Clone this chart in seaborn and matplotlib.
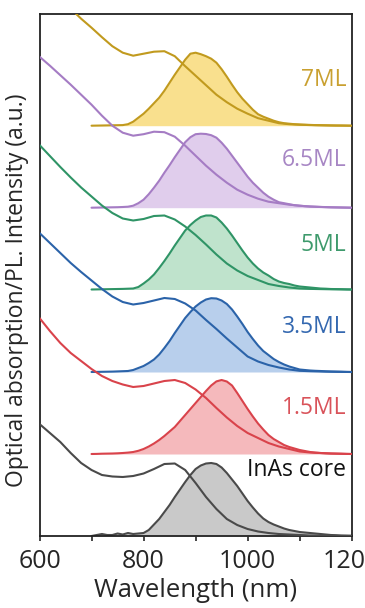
import numpy as np
import pandas as pd
import matplotlib
matplotlib.use("Agg")
import matplotlib.pyplot as plt
import seaborn as sns

# longitudes de onda
wl_abs = list(range(600, 1201, 20))
wl_pl = list(range(700, 1201, 10))

# absorcion (u.a., sin offset)
abs_core = [112, 103, 94, 83, 73, 66, 61, 59.5, 59, 60, 62.5, 67, 72, 72.5, 66, 53,
            39, 27, 17, 11, 7, 4.5, 3, 2, 1.5, 1, 0.5, 0.3, 0.2, 0.1, 0]
abs_15 = [136, 123, 111, 101, 93, 85, 78, 73, 69.5, 67, 68, 70.5, 73, 74, 71, 64.5,
          56, 46, 36.5, 28, 21, 16, 11, 7.5, 5, 2.5, 1.5, 1, 0.5, 0.2, 0]
abs_35 = [139, 129, 119, 109, 100, 91.5, 83, 75.5, 70, 67.5, 69, 71.5, 74, 73, 68.5, 61.5,
          52, 43, 33.5, 24.5, 15.5, 10.5, 7, 4.5, 2.5, 1.2, 0.8, 0.5, 0.3, 0.1, 0]
abs_5 = [144.5, 133.5, 122.5, 112, 102, 93, 84, 76.5, 71, 69, 70.5, 73.5, 74, 70, 63, 54.5,
         45, 35, 26, 19, 13.5, 9.5, 5.5, 3.5, 2, 1, 0.6, 0.4, 0.2, 0.1, 0]
abs_65 = [151, 142, 132.5, 123, 113, 103, 92, 82, 75, 72, 73.5, 76, 75.5, 71, 62, 52,
          42, 33, 25, 18, 13, 9, 6, 4.5, 3, 2, 1.2, 0.7, 0.4, 0.2, 0]
abs_7 = [150, 138, 127, 117, 107, 98, 88.5, 79.5, 73, 70, 72, 74, 74.5, 69.5, 59.5, 50,
         40.5, 31, 23.5, 17, 12, 7.5, 5, 2.5, 1.5, 1, 0.6, 0.4, 0.2, 0.1, 0]

# PL
pl_core = [0, 1, 2, 1, 1, 2.5, 1.5, 3, 2, 2.5, 3, 6, 11.5, 17, 24, 31, 39, 46.5, 54, 61,
           67, 70.5, 72.5, 73, 72, 68.5, 63, 56.5, 50, 42.5, 35, 28.5, 22.5, 17.5, 14, 11.5,
           9.5, 7.5, 6, 5, 4, 3.5, 3, 2.5, 2, 1.5, 1, 0.8, 0.5, 0.4, 0.3]
pl_15 = [0, 0.1, 0.3, 0.4, 0.5, 0.7, 1, 1.4, 2, 3.2, 5, 7.5, 10.5, 14, 18, 22.5, 27, 33, 39, 45,
         51, 57, 63, 68.5, 72.6, 74, 72.5, 68.5, 61, 53, 45, 37.5, 30.5, 24.5, 19, 15,
         12, 9, 7, 5.5, 4, 3, 2, 1.4, 1, 0.7, 0.5, 0.4, 0.3, 0.1, 0]
pl_35 = [0, 0.1, 0.2, 0.3, 0.4, 0.6, 0.8, 1, 2, 4, 6, 9, 12.5, 17.5, 24, 31, 39, 46.5, 54, 60,
         65.5, 69.5, 72.5, 73.8, 73.5, 71.5, 68, 62.5, 55.5, 48, 40, 33, 26.5, 21, 17, 13,
         10, 7.5, 5.5, 4, 2.5, 2, 1.5, 1.2, 1, 0.7, 0.5, 0.4, 0.3, 0.1, 0]
pl_5 = [0, 0.1, 0.2, 0.3, 0.4, 0.5, 0.6, 0.8, 1, 2.5, 6, 10, 15, 21.5, 28.5, 36, 44, 51.5, 59, 64.5,
        69, 72.5, 74, 74, 72, 67, 61, 54, 46.5, 39, 32, 26, 21, 17, 14, 10.5,
        8, 6.5, 5.5, 4, 3, 2.5, 2, 1.5, 1, 0.8, 0.5, 0.4, 0.3, 0.1, 0]
pl_65 = [0, 0.1, 0.2, 0.3, 0.4, 0.5, 0.7, 1, 2, 4.5, 8, 13.5, 20, 27, 35, 42.5, 50.5, 58, 65.5, 70.5,
         73.5, 74, 73.7, 72.5, 70, 65, 59, 52, 45, 38, 31, 25, 20, 15, 11, 8,
         5.5, 4.5, 3.5, 2.5, 2, 1.5, 1.2, 1, 0.8, 0.6, 0.4, 0.3, 0.2, 0.1, 0]
pl_7 = [0, 0.1, 0.2, 0.3, 0.4, 0.5, 0.6, 1.5, 4, 8, 12, 17, 22.5, 28, 35, 43, 51, 58.5, 66, 72,
        73, 71.5, 69.5, 67, 63, 56.5, 49, 41, 33.5, 27, 21.5, 16, 11.5, 9, 7, 5,
        3.5, 2.5, 2, 1.5, 1.2, 1, 0.8, 0.6, 0.5, 0.4, 0.3, 0.2, 0.2, 0.1, 0]

etiquetas = ["InAs core", "1.5ML", "3.5ML", "5ML", "6.5ML", "7ML"]
lista_abs = [abs_core, abs_15, abs_35, abs_5, abs_65, abs_7]
lista_pl = [pl_core, pl_15, pl_35, pl_5, pl_65, pl_7]

# estilo
offsets = [0, 82, 164, 246.5, 328.3, 410.3]
col_linea = ["#4a4a4a", "#d9434b", "#2b63a9", "#2f9466", "#a57cc4", "#c19a1e"]
col_relleno = ["#c9c9c9", "#f5b9bc", "#b8cfec", "#bfe3cc", "#e0cdec", "#f9e08e"]
col_texto = ["#111111", "#d9535a", "#3468b0", "#3e9a6c", "#a786c4", "#c9a030"]
y_texto = [66, 46, 45, 44.5, 47.7, 46]

sns.set_style("ticks")
plt.rcParams['font.family'] = ['Open Sans', 'DejaVu Sans']

fig = plt.figure(figsize=(3.65, 6.08), dpi=100)
ax = fig.add_axes([39.5 / 365, 72 / 608, 312.2 / 365, 522 / 608])

for i in range(len(etiquetas)):
    df_abs = pd.DataFrame({"wl": wl_abs, "y": np.array(lista_abs[i]) + offsets[i]})
    df_pl = pd.DataFrame({"wl": wl_pl, "y": np.array(lista_pl[i]) + offsets[i]})
    ax.fill_between(df_pl["wl"], offsets[i], df_pl["y"], color=col_relleno[i], lw=0, zorder=1)
    sns.lineplot(data=df_pl, x="wl", y="y", color=col_linea[i], lw=1.5, ax=ax, zorder=2)
    sns.lineplot(data=df_abs, x="wl", y="y", color=col_linea[i], lw=1.5, ax=ax, zorder=3)
    ax.text(1190, offsets[i] + y_texto[i], etiquetas[i], color=col_texto[i],
            ha="right", va="center", fontsize=16.5, zorder=4)

ax.set_xlim(600, 1200)
ax.set_ylim(0, 522)
ax.set_xticks([600, 800, 1000, 1200])
ax.set_xticks([700, 900, 1100], minor=True)
ax.set_yticks([])
ax.tick_params(axis="x", which="both", direction="out", length=3.5, width=1.2,
               labelsize=18, pad=5.5, top=False)
ax.set_xlabel("Wavelength (nm)", fontsize=18.5, labelpad=3)
ax.set_ylabel("Optical absorption/PL. Intensity (a.u.)", fontsize=16.5)
ax.yaxis.set_label_coords(-0.035, 0.471)
for s in ax.spines.values():
    s.set_visible(True)
    s.set_linewidth(1.3)
    s.set_color("#222222")

fig.savefig("out.png", dpi=100)
